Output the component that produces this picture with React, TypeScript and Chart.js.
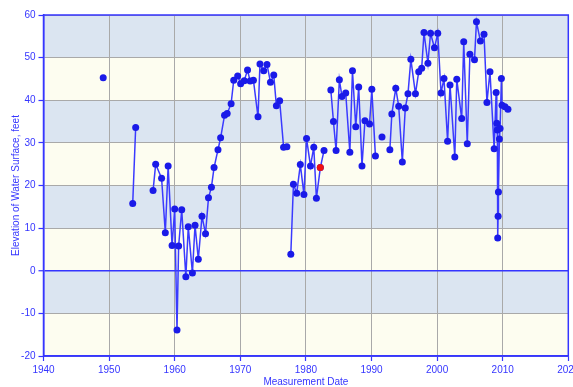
import React, { useEffect, useRef } from "react";
import { Chart, registerables } from "chart.js";

Chart.register(...registerables);

// Measurement dates (decimal years) and water-surface elevations (feet); null = gap in record
const years: number[] = [
  1949.1, 1951.0,
  1953.6, 1954.05, 1955.0,
  1956.7, 1957.1, 1958.0, 1958.57, 1959.0, 1959.6, 1960.0, 1960.35, 1960.6, 1961.07,
  1961.7, 1962.07, 1962.7, 1963.1, 1963.6, 1964.16, 1964.7, 1965.15, 1965.6, 1966.0,
  1966.6, 1967.0, 1967.6, 1968.0, 1968.6, 1969.0, 1969.6, 1970.05, 1970.6, 1971.1,
  1971.5, 1972.0, 1972.7, 1973.0, 1973.57, 1974.07, 1974.6, 1975.1, 1975.5, 1976.0,
  1976.6, 1977.1, 1977.4,
  1977.7, 1978.1, 1978.6, 1979.15, 1979.7, 1980.1, 1980.7, 1981.2, 1981.6, 1982.2,
  1982.76, 1983.3,
  1983.8, 1984.2, 1984.6, 1985.1, 1985.5, 1986.07, 1986.7, 1987.1, 1987.6, 1988.05,
  1988.55, 1989.0, 1989.7, 1990.05, 1990.6, 1991.1,
  1991.6, 1992.2,
  1992.8, 1993.1, 1993.7, 1994.15, 1994.7, 1995.15, 1995.56, 1996.0, 1996.7, 1997.2,
  1997.65, 1998.0, 1998.6, 1999.0, 1999.6, 2000.1, 2000.6, 2001.05, 2001.6, 2001.97,
  2002.7, 2003.0, 2003.75, 2004.06, 2004.6, 2005.0, 2005.7, 2006.0, 2006.6, 2007.15,
  2007.6, 2008.06, 2008.7, 2009.0, 2009.1, 2009.18, 2009.24, 2009.3, 2009.35, 2009.5,
  2009.6, 2009.8, 2009.9, 2010.35, 2010.8,
];

const elevations: (number | null)[] = [
  45.3, null,
  15.8, 33.6, null,
  18.8, 25.0, 21.7, 8.9, 24.6, 5.9, 14.5, -13.9, 5.8, 14.3,
  -1.4, 10.3, -0.5, 10.7, 2.7, 12.8, 8.7, 17.1, 19.6, 24.2,
  28.4, 31.2, 36.5, 36.9, 39.2, 44.7, 45.7, 43.9, 44.6, 47.1,
  44.5, 44.7, 36.1, 48.5, 46.9, 48.4, 44.2, 45.9, 38.7, 39.9,
  29.0, 29.1, null,
  3.9, 20.3, 18.2, 24.9, 17.9, 31.0, 24.6, 29.0, 17.0, 24.2,
  28.2, null,
  42.4, 35.0, 28.2, 44.8, 40.9, 41.7, 27.8, 46.9, 33.8, 43.1,
  24.6, 35.2, 34.4, 42.6, 26.9, null,
  31.4, null,
  28.4, 36.8, 42.8, 38.6, 25.5, 38.2, 41.5, 49.6, 41.5, 46.7,
  47.5, 55.9, 48.7, 55.7, 52.3, 55.7, 41.7, 45.1, 30.4, 43.6,
  26.7, 44.9, 35.7, 53.7, 29.8, 50.8, 49.5, 58.4, 53.9, 55.5,
  39.5, 46.7, 28.6, 41.8, 34.6, 33.0, 7.7, 12.8, 18.5, 30.9,
  33.4, 45.1, 38.8, 38.5, 37.9,
];

// Flagged (red) measurement
const flaggedYears: number[] = [1982.2];
const flaggedElevations: number[] = [24.2];

const xTicks: number[] = [1940, 1950, 1960, 1970, 1980, 1990, 2000, 2010, 2020];
const yTicks: number[] = [-20, -10, 0, 10, 20, 30, 40, 50, 60];

const BLUE = "#3535ff";
const GRID = "#a9a9a9";
const BAND_BLUE = "#dbe5f1";
const BAND_CREAM = "#fdfdf0";

const bandsPlugin = {
  id: "bands",
  beforeDraw(chart: any) {
    const { ctx, chartArea, scales } = chart;
    const y = scales.y;
    ctx.save();
    for (let i = 0; i < yTicks.length - 1; i++) {
      const lo = yTicks[i];
      const hi = yTicks[i + 1];
      const top = y.getPixelForValue(hi);
      const bot = y.getPixelForValue(lo);
      const idxFromTop = yTicks.length - 2 - i;
      ctx.fillStyle = idxFromTop % 2 === 0 ? BAND_BLUE : BAND_CREAM;
      ctx.fillRect(chartArea.left, top, chartArea.right - chartArea.left, bot - top);
    }
    ctx.restore();
  },
  afterDraw(chart: any) {
    const { ctx, chartArea } = chart;
    ctx.save();
    ctx.strokeStyle = BLUE;
    ctx.lineWidth = 1.5;
    ctx.strokeRect(chartArea.left, chartArea.top, chartArea.right - chartArea.left, chartArea.bottom - chartArea.top);
    ctx.restore();
  },
};

export default function App() {
  const ref = useRef<HTMLCanvasElement | null>(null);

  useEffect(() => {
    document.body.style.margin = "0";
    if (!ref.current) return;
    const main = years.map((x, i) => ({ x, y: elevations[i] }));
    const flagged = flaggedYears.map((x, i) => ({ x, y: flaggedElevations[i] }));
    const font = { family: "'Liberation Sans', Arial, sans-serif", size: 10 };
    const chart = new Chart(ref.current, {
      type: "scatter",
      data: {
        datasets: [
          {
            data: flagged,
            showLine: false,
            pointRadius: 3.5,
            pointBackgroundColor: "#ee1111",
            pointBorderColor: "#ee1111",
            borderWidth: 0,
            order: 0,
          },
          {
            data: main as any,
            showLine: true,
            spanGaps: false,
            borderColor: "#3a3aff",
            borderWidth: 1.5,
            pointRadius: 3.5,
            pointBackgroundColor: "#1a1ae8",
            pointBorderColor: "#1a1ae8",
            pointBorderWidth: 0,
            order: 1,
          },
        ],
      },
      options: {
        animation: false,
        responsive: true,
        maintainAspectRatio: false,
        layout: { padding: { left: 0, right: 4.7, top: 15, bottom: 0 } },
        plugins: { legend: { display: false }, tooltip: { enabled: false } },
        scales: {
          x: {
            type: "linear",
            min: 1940,
            max: 2020,
            afterBuildTicks: (s: any) => {
              s.ticks = xTicks.map((v) => ({ value: v }));
            },
            afterFit: (s: any) => {
              s.height = 31;
              s.paddingLeft = 0;
              s.paddingRight = 0;
            },
            ticks: {
              color: BLUE,
              font,
              padding: 3,
              maxRotation: 0,
              autoSkip: false,
              callback: (v: any) => String(v),
            },
            grid: { color: GRID, lineWidth: 1, tickColor: BLUE, tickLength: 5, tickWidth: 1.2 },
            border: { color: BLUE, width: 1.5 },
            title: {
              display: true,
              text: "Measurement Date",
              color: BLUE,
              font: { ...font, lineHeight: 1 },
              padding: { top: 0, bottom: 0 },
            },
          },
          y: {
            type: "linear",
            min: -20,
            max: 60,
            afterBuildTicks: (s: any) => {
              s.ticks = yTicks.map((v) => ({ value: v }));
            },
            afterFit: (s: any) => {
              s.width = 43.5;
              s.paddingTop = 0;
              s.paddingBottom = 0;
            },
            ticks: {
              color: BLUE,
              font,
              padding: 3,
              autoSkip: false,
              callback: (v: any) => String(v),
            },
            grid: {
              color: (c: any) => (c.tick && c.tick.value === 0 ? BLUE : GRID),
              lineWidth: (c: any) => (c.tick && c.tick.value === 0 ? 1.5 : 1),
              tickColor: BLUE,
              tickLength: 5,
              tickWidth: 1.2,
            },
            border: { color: BLUE, width: 1.5 },
            title: {
              display: true,
              text: "Elevation of Water Surface, feet",
              color: BLUE,
              font: { ...font, lineHeight: 1.2 },
              padding: { top: 10, bottom: 0 },
            },
          },
        },
      },
      plugins: [bandsPlugin],
    });
    return () => chart.destroy();
  }, []);

  return (
    <div style={{ position: "relative", width: 573, height: 387, background: "#ffffff" }}>
      <canvas ref={ref} />
    </div>
  );
}
